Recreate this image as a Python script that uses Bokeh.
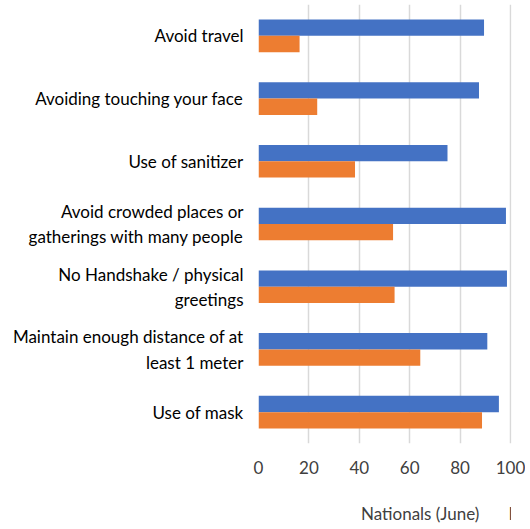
from bokeh.plotting import figure
from bokeh.models import ColumnDataSource, FactorRange, Range1d, Legend, LegendItem
from bokeh.layouts import column
from bokeh.transform import dodge
from bokeh.embed import file_html
from bokeh.resources import INLINE

categories = ["Avoid travel", "Avoiding touching your face", "Use of sanitizer",
              "Avoid crowded places or\ngatherings with many people",
              "No Handshake / physical\ngreetings",
              "Maintain enough distance of at\nleast 1 meter", "Use of mask"]
nationals = [89.5, 87.5, 75.0, 98.2, 98.6, 90.8, 95.4]
refugees = [16.3, 23.3, 38.3, 53.4, 54.0, 64.2, 88.7]
series_names = ["Nationals (June)", "Refugees  (October/November)"]
ticks = [0, 20, 40, 60, 80, 100]

FONT = "Lato"
BLUE = "#4472C4"
ORANGE = "#ED7D31"

src = ColumnDataSource(dict(cat=categories, nat=nationals, ref=refugees))

p = figure(width=525, height=480, output_backend="svg", toolbar_location=None,
           y_range=FactorRange(factors=list(reversed(categories)), range_padding=0),
           x_range=Range1d(0, 100.4))
p.min_border_top = 4
p.min_border_right = 14
p.min_border_left = 258
p.min_border_bottom = 37
p.outline_line_color = None

r1 = p.hbar(y=dodge("cat", 0.13, range=p.y_range), right="nat", left=0, height=0.26,
            source=src, fill_color=BLUE, line_color=None)
r2 = p.hbar(y=dodge("cat", -0.13, range=p.y_range), right="ref", left=0, height=0.26,
            source=src, fill_color=ORANGE, line_color=None)

p.xaxis.ticker = ticks
p.xaxis.axis_line_color = None
p.xaxis.major_tick_line_color = None
p.xaxis.minor_tick_line_color = None
p.xaxis.major_label_text_font = FONT
p.xaxis.major_label_text_font_size = "17px"
p.xaxis.major_label_text_color = "#404040"
p.xaxis.major_label_standoff = 11

p.yaxis.axis_line_color = None
p.yaxis.major_tick_line_color = None
p.yaxis.major_label_text_font = FONT
p.yaxis.major_label_text_font_size = "17px"
p.yaxis.major_label_text_color = "#000000"
p.yaxis.major_label_standoff = 9

p.ygrid.grid_line_color = None
p.xgrid.grid_line_color = "#d9d9d9"
p.xgrid.grid_line_width = 1.5

# small strip below the chart that holds the legend
lf = figure(width=525, height=47, output_backend="svg", toolbar_location=None,
            x_range=Range1d(0, 1), y_range=Range1d(0, 1))
lf.min_border = 0
lf.outline_line_color = None
lf.axis.visible = False
lf.grid.grid_line_color = None
l1 = lf.hbar(y=[], right=[], left=0, height=0.5, fill_color=BLUE, line_color=None)
l2 = lf.hbar(y=[], right=[], left=0, height=0.5, fill_color=ORANGE, line_color=None)

legend = Legend(items=[LegendItem(label=series_names[0], renderers=[l1]),
                       LegendItem(label=series_names[1], renderers=[l2])],
                orientation="horizontal", location=(88, 3),
                label_text_font=FONT, label_text_font_size="17px",
                label_text_color="#404040", label_standoff=5,
                glyph_width=10, glyph_height=10, spacing=14,
                border_line_color=None, background_fill_alpha=0,
                margin=0, padding=2)
lf.add_layout(legend, "center")

layout = column(p, lf, spacing=0)
open("out.html", "w").write(file_html(layout, INLINE))
